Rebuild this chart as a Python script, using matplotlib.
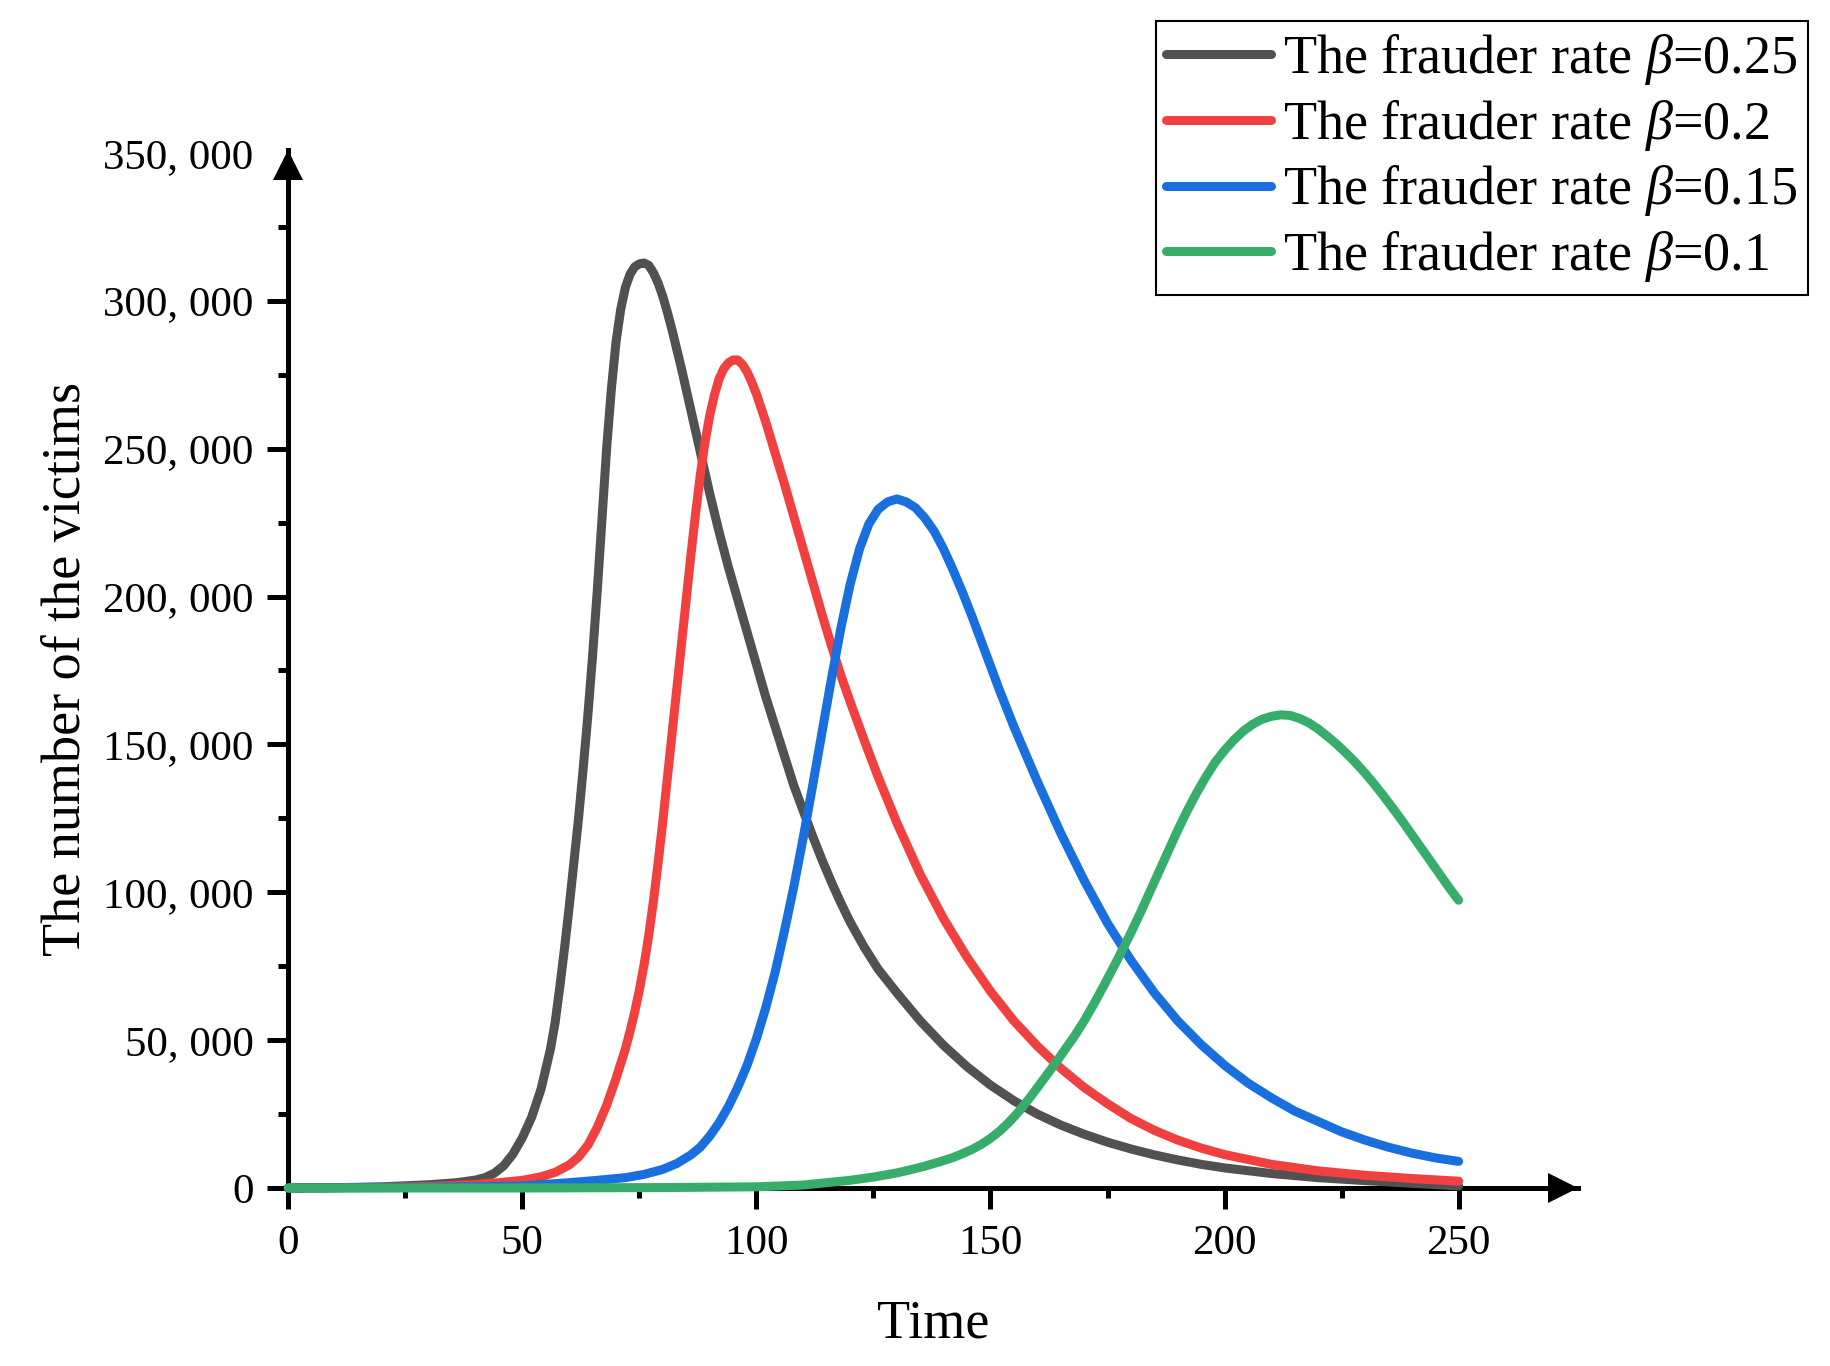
import matplotlib
matplotlib.use('Agg')
import matplotlib.pyplot as plt
import matplotlib.transforms as mtransforms
from matplotlib.ticker import FixedLocator, FuncFormatter

plt.rcParams['font.family'] = ['Liberation Serif', 'DejaVu Serif']
plt.rcParams['mathtext.fontset'] = 'custom'
plt.rcParams['mathtext.rm'] = 'Liberation Serif'
plt.rcParams['mathtext.it'] = 'Liberation Serif:italic'

# values (time, number of victims)
t_025 = [0, 10, 20, 30, 36, 40, 42, 44, 46, 48, 50, 52, 54, 56, 57, 58, 59, 60, 61, 62, 63,
         64, 65, 66, 67, 68, 69, 70, 71, 72, 73, 74, 75, 76, 77, 78, 79, 80, 81, 82, 84, 86,
         88, 90, 92, 94, 96, 98, 100, 102, 104, 106, 108, 110, 112, 114, 116, 118, 120, 123,
         126, 130, 135, 140, 145, 150, 155, 160, 165, 170, 175, 180, 185, 190, 195, 200, 210,
         220, 230, 240, 250]
v_025 = [0, 100, 400, 1100, 1800, 2700, 3500, 5000, 7500, 11500, 17000, 24000, 33500, 47000,
         56000, 68000, 81000, 95000, 110000, 125000, 142000, 160000, 180000, 202000, 226000,
         250000, 270000, 286000, 297000, 304500, 309000, 311500, 312500, 312800, 312000,
         309500, 306000, 301500, 296000, 290000, 277000, 263000, 249000, 235000, 222000,
         210000, 199000, 188000, 177000, 166000, 156000, 146000, 136000, 127500, 119000,
         111000, 103500, 96500, 90000, 81500, 74000, 66000, 56500, 48200, 41000, 34800, 29500,
         25000, 21300, 18200, 15500, 13200, 11200, 9500, 8000, 6800, 4900, 3500, 2500, 1600,
         700]

t_02 = [0, 20, 30, 40, 45, 50, 54, 57, 60, 62, 64, 66, 68, 70, 72, 73, 74, 75, 76, 77, 78,
        79, 80, 81, 82, 83, 84, 85, 86, 87, 88, 89, 90, 91, 92, 93, 94, 95, 96, 97, 98, 99,
        100, 102, 104, 106, 108, 110, 112, 114, 116, 118, 120, 123, 126, 130, 135, 140, 145,
        150, 155, 160, 165, 170, 175, 180, 185, 190, 195, 200, 210, 220, 230, 240, 250]
v_02 = [0, 200, 500, 1200, 1800, 2600, 3800, 5300, 7800, 10500, 14500, 20500, 28000, 37000,
        47000, 53000, 59500, 67000, 75500, 85500, 97000, 110000, 124000, 139000, 154000,
        169000, 184000, 199000, 214000, 228000, 241000, 252000, 261000, 268000, 273500,
        277000, 279000, 280000, 280000, 278500, 276000, 272500, 268500, 259000, 248500,
        238000, 227000, 216000, 205000, 194000, 183500, 173500, 164500, 151500, 139000,
        123500, 106000, 91000, 78000, 66500, 56500, 48000, 40500, 34000, 28500, 23500, 19500,
        16200, 13500, 11300, 8000, 5800, 4300, 3200, 2300]

t_015 = [0, 30, 50, 60, 66, 72, 76, 80, 83, 86, 88, 90, 92, 94, 96, 98, 100, 102, 104, 106,
         108, 110, 112, 114, 116, 118, 120, 122, 124, 126, 128, 130, 132, 134, 136, 138, 140,
         142, 144, 146, 148, 150, 152, 155, 160, 165, 170, 175, 180, 185, 190, 195, 200, 205,
         210, 215, 220, 225, 230, 235, 240, 245, 250]
v_015 = [0, 200, 700, 1800, 2600, 3500, 4600, 6300, 8300, 11200, 13800, 17500, 22000, 27500,
         34000, 41500, 50500, 61000, 73000, 87000, 102000, 118500, 136000, 154000, 172000,
         189000, 204000, 216000, 224500, 229500, 232000, 233000, 232000, 230000, 226500,
         222000, 216000, 209000, 201500, 193500, 185000, 176500, 168000, 156000, 137500,
         120000, 104000, 89500, 77000, 66000, 56500, 48500, 41500, 35500, 30500, 26000, 22500,
         19000, 16200, 13800, 11800, 10200, 9000]

t_01 = [0, 50, 80, 100, 110, 120, 125, 130, 133, 136, 139, 142, 144, 146, 148, 150, 152, 154,
        156, 158, 160, 162, 164, 166, 168, 170, 172, 174, 176, 178, 180, 182, 184, 186, 188,
        190, 192, 194, 196, 198, 200, 202, 204, 206, 208, 210, 212, 214, 216, 218, 220, 222,
        224, 226, 228, 230, 232, 234, 236, 238, 240, 242, 244, 246, 248, 250]
v_01 = [0, 0, 150, 400, 1000, 2600, 3700, 5100, 6200, 7400, 8800, 10300, 11600, 13000, 14700,
        16800, 19300, 22300, 25800, 29700, 33900, 38200, 42500, 47000, 51500, 56500, 62000,
        67800, 73800, 80000, 86300, 93000, 100000, 107000, 114000, 121000, 127500, 133500,
        139000, 144000, 148000, 151500, 154500, 156800, 158500, 159500, 160000, 159800,
        158800, 157300, 155200, 152700, 150000, 147000, 143800, 140300, 136500, 132500,
        128300, 124000, 119500, 115000, 110500, 106000, 101500, 97300]

labels = [r'The frauder rate $\beta$=0.25', r'The frauder rate $\beta$=0.2',
          r'The frauder rate $\beta$=0.15', r'The frauder rate $\beta$=0.1']
colors = ['#515151', '#F14040', '#1A6FDF', '#37AD6B']
x_ticks = [0, 50, 100, 150, 200, 250]
x_minor = [25, 75, 125, 175, 225]
y_ticks = [0, 50000, 100000, 150000, 200000, 250000, 300000, 350000]
y_minor = [25000, 75000, 125000, 175000, 225000, 275000, 325000]

fig = plt.figure(figsize=(18.31, 13.66), dpi=100)
ax = fig.add_axes([288.3 / 1831, 1 - 1188 / 1366, 1289.7 / 1831, 1038 / 1366])

for t, v, c, lab in zip([t_025, t_02, t_015, t_01], [v_025, v_02, v_015, v_01], colors, labels):
    ax.plot(t, v, color=c, lw=6.5, label=lab, clip_on=False,
            solid_capstyle='round', solid_joinstyle='round')

ax.set_xlim(0, 275.5)
ax.set_ylim(0, 351000)

# axis look: only left/bottom spines with arrows
for s in ['top', 'right']:
    ax.spines[s].set_visible(False)
for s in ['left', 'bottom']:
    ax.spines[s].set_linewidth(3.6)
    ax.spines[s].set_zorder(1)

ax.xaxis.set_major_locator(FixedLocator(x_ticks))
ax.xaxis.set_minor_locator(FixedLocator(x_minor))
ax.yaxis.set_major_locator(FixedLocator(y_ticks))
ax.yaxis.set_minor_locator(FixedLocator(y_minor))
ax.yaxis.set_major_formatter(FuncFormatter(lambda v, p: f"{int(v):,}".replace(",", ", ")))
ax.tick_params(which='major', length=15, width=3.6, labelsize=31, direction='out')
ax.tick_params(which='minor', length=7.5, width=3.6, direction='out')
ax.tick_params(axis='x', which='major', pad=11)
ax.tick_params(axis='y', which='major', pad=10)
fig.canvas.draw()
ax.yaxis.get_major_ticks()[-1].tick1line.set_visible(False)

off = 14.5 / 100
tr_x = ax.transAxes + mtransforms.ScaledTranslation(-off, 0, fig.dpi_scale_trans)
tr_y = ax.transAxes + mtransforms.ScaledTranslation(0, -off, fig.dpi_scale_trans)
ax.plot([1], [0], marker='>', ms=20.9, mew=0, color='black', transform=tr_x, clip_on=False)
ax.plot([0], [1], marker='^', ms=20.9, mew=0, color='black', transform=tr_y, clip_on=False)

ax.set_xlabel('Time', fontsize=39)
ax.xaxis.set_label_coords(0.5, -0.107)
ax.set_ylabel('The number of the victims', fontsize=39, va='center')
ax.yaxis.set_label_coords(-0.172, 0.5)

leg = ax.legend(loc='upper right', bbox_to_anchor=(1808 / 1831, 1 - 21 / 1366),
                bbox_transform=fig.transFigure, fontsize=39, fancybox=False,
                edgecolor='black', framealpha=1, borderpad=0.2, labelspacing=0.2,
                handlelength=1.93, handletextpad=0.22, borderaxespad=0)
leg.get_frame().set_linewidth(1.5)

fig.savefig('out.png', dpi=100)
